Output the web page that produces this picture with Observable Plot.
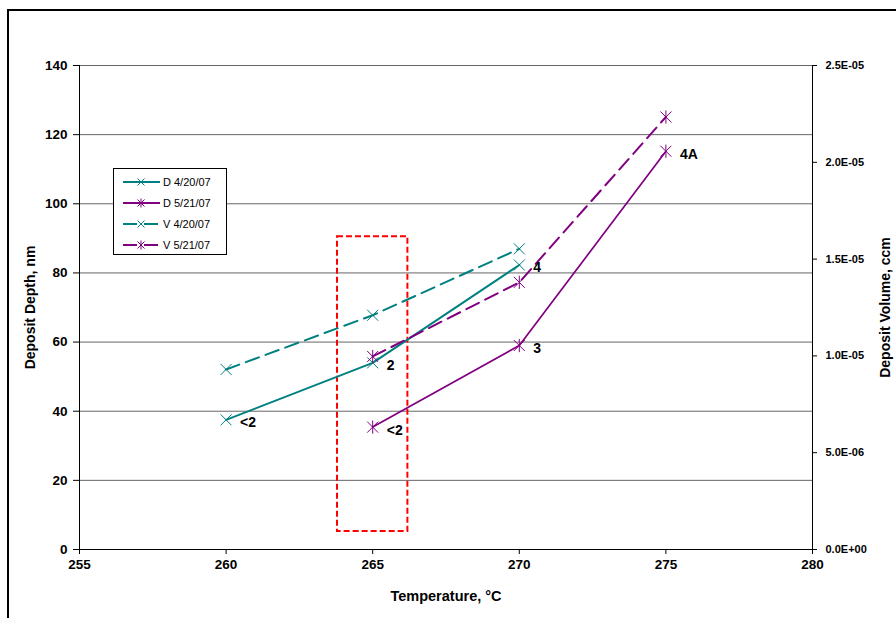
<!DOCTYPE html>
<html><head><meta charset="utf-8">
<script src="https://cdn.jsdelivr.net/npm/d3@7"></script>
<script src="https://cdn.jsdelivr.net/npm/@observablehq/plot@0.6"></script>
<style>
body{margin:0;background:#fff;font-family:"Liberation Sans",Arial,sans-serif;}
#wrap{position:relative;width:896px;height:618px;overflow:hidden;background:#fff;}
#frame{position:absolute;left:7px;top:9px;width:1000px;height:800px;border-top:2px solid #000;border-left:2px solid #000;pointer-events:none;}
#chart{position:absolute;left:0;top:0;}
#legend{position:absolute;left:113px;top:168px;}
</style>
</head><body>
<div id="wrap"><div id="chart"></div><div id="frame"></div><div id="legend"></div></div>
<script>
// ---- data ----
const seriesNames = ["D 4/20/07", "D 5/21/07", "V 4/20/07", "V 5/21/07"];
const temps0420 = [260, 265, 270];
const depth0420 = [37.5, 54, 82.3];        // nm (left axis)
const vol0420 = [9.3e-6, 1.21e-5, 1.553e-5]; // ccm (right axis)
const temps0521 = [265, 270, 275];
const depth0521 = [35.4, 59, 115.2];
const vol0521 = [9.97e-6, 1.38e-5, 2.234e-5];

const xTicks = [255, 260, 265, 270, 275, 280];
const leftTicks = [0, 20, 40, 60, 80, 100, 120, 140];
const rightTicks = [0, 5e-6, 1e-5, 1.5e-5, 2e-5, 2.5e-5];

const labelT = [260, 265, 270, 265, 270, 275];
const labelD = [37.5, 54, 82.3, 35.4, 59, 115.2];
const labelText = ["<2", "2", "4", "<2", "3", "4A"];

const boxT = [263.8, 266.2];
const boxD = [5.2, 90.5];

// ---- styling ----
const teal = "#008080", purple = "#800080";
const colors = [teal, purple, teal, purple];
const widths = [2, 1.7, 2, 2];
const dashes = [null, null, "14,7", "14,7"];
const k = 140 / 2.5e-5; // ccm -> nm-scale
const font = '"Liberation Sans", Arial, sans-serif';

const crossSym = {draw(ctx, size){const s = Math.sqrt(size/Math.PI); ctx.moveTo(-s,-s); ctx.lineTo(s,s); ctx.moveTo(-s,s); ctx.lineTo(s,-s);}};
const starSym = {draw(ctx, size){const s = Math.sqrt(size/Math.PI); ctx.moveTo(-s,-s); ctx.lineTo(s,s); ctx.moveTo(-s,s); ctx.lineTo(s,-s); ctx.moveTo(0,-s*1.2); ctx.lineTo(0,s*1.2);}};
const symbols = [crossSym, starSym, crossSym, starSym];

const d0420 = temps0420.map((t,i)=>({t, y: depth0420[i]}));
const d0521 = temps0521.map((t,i)=>({t, y: depth0521[i]}));
const v0420 = temps0420.map((t,i)=>({t, y: vol0420[i]*k}));
const v0521 = temps0521.map((t,i)=>({t, y: vol0521[i]*k}));
const seriesData = [d0420, d0521, v0420, v0521];
const labels = labelT.map((t,i)=>({t, y: labelD[i], s: labelText[i]}));

const fmtE = v => v.toExponential(1).replace("e", "E").replace(/E([+-])(\d)$/, "E$10$2");

const marks = [
  Plot.ruleY(leftTicks.filter(t=>t>0), {stroke:"#666", strokeWidth:1}),
  Plot.rect([{x1: boxT[0], x2: boxT[1], y1: boxD[0], y2: boxD[1]}], {x1:"x1", x2:"x2", y1:"y1", y2:"y2", fill:"none", stroke:"#ff0000", strokeWidth:2, strokeDasharray:"6,3"}),
];
seriesData.forEach((data, i) => {
  marks.push(Plot.line(data, {x:"t", y:"y", stroke: colors[i], strokeWidth: widths[i], strokeDasharray: dashes[i]}));
});
seriesData.forEach((data, i) => {
  marks.push(Plot.dot(data, {x:"t", y:"y", symbol: symbols[i], r: 5.5, fill:"none", stroke: colors[i], strokeWidth: 1}));
});
marks.push(
  Plot.text(labels, {x:"t", y:"y", text:"s", textAnchor:"start", dx: 14, dy: 3, fontSize: 14, fontWeight:"bold", fill:"#000"}),
  Plot.ruleX([255, 280], {stroke:"#000", strokeWidth:1}),
  Plot.ruleY([0], {stroke:"#000", strokeWidth:1}),
  Plot.axisY({ticks: leftTicks, tickSize: 6, tickPadding: 6, label: null, fontSize: 13.5}),
  Plot.axisY({anchor:"right", ticks: rightTicks.map(v=>v*k), tickFormat: d => fmtE(d/k), tickSize: 4, tickPadding: 9, label: null, fontSize: 11}),
  Plot.axisX({ticks: xTicks, tickSize: 5, tickPadding: 5, label: null, fontSize: 13.5}),
  Plot.text(["Deposit Depth, nm"], {frameAnchor:"left", textAnchor:"middle", dx:-49, rotate:-90, text: d=>d, fontSize: 14, fontWeight:"bold"}),
  Plot.text(["Deposit Volume, ccm"], {frameAnchor:"right", textAnchor:"middle", dx:73, rotate:-90, text: d=>d, fontSize: 14, fontWeight:"bold"}),
  Plot.text(["Temperature, °C"], {frameAnchor:"bottom", textAnchor:"middle", dy:51, text: d=>d, fontSize: 14.5, fontWeight:"bold"})
);

const chart = Plot.plot({
  width: 896, height: 618,
  marginLeft: 79, marginRight: 84, marginTop: 65, marginBottom: 69,
  x: {domain: [255, 280]},
  y: {domain: [0, 140]},
  style: {fontFamily: font, fontSize: "13px", fontWeight: "bold", color: "#000", background: "transparent", overflow: "visible"},
  marks
});
document.getElementById("chart").appendChild(chart);

// ---- legend ----
const lg = d3.select("#legend").append("svg").attr("width", 114).attr("height", 87);
lg.append("rect").attr("x", 0.5).attr("y", 0.5).attr("width", 113).attr("height", 86).attr("fill", "#fff").attr("stroke", "#000");
seriesNames.forEach((name, i) => {
  const y = 14 + i * 21;
  lg.append("line").attr("x1", 10).attr("x2", 47).attr("y1", y).attr("y2", y)
    .attr("stroke", colors[i]).attr("stroke-width", 2).attr("stroke-dasharray", dashes[i]);
  const s = 3.5;
  lg.append("path").attr("fill", "none").attr("stroke", colors[i]).attr("stroke-width", 1)
    .attr("d", `M${28-s},${y-s}L${28+s},${y+s}M${28-s},${y+s}L${28+s},${y-s}` + (i % 2 ? `M28,${y-s-1}L28,${y+s+1}` : ""));
  lg.append("text").attr("x", 50).attr("y", y + 4).attr("font-size", 11).attr("font-family", font).text(name);
});
</script>
</body></html>
